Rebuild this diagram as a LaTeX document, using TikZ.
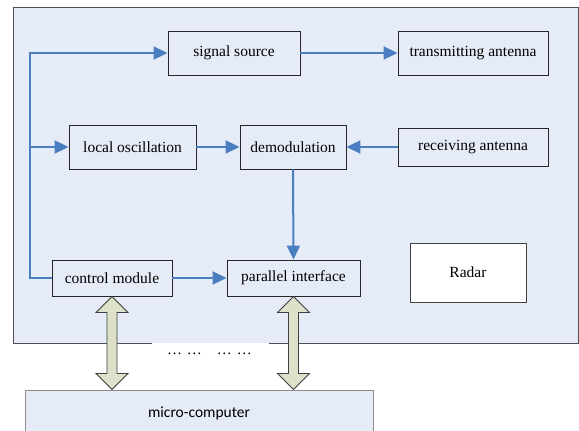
\documentclass[tikz,border=0pt]{standalone}
\usepackage{fontspec}
\setmainfont{Liberation Serif}
\newfontfamily\boxfont{Liberation Serif}
\newfontfamily\mcfont{Carlito}
\usetikzlibrary{arrows.meta,calc}
\definecolor{panelbg}{RGB}{230,236,247}
\definecolor{bluearrow}{RGB}{74,126,193}
\definecolor{olivefill}{RGB}{221,225,201}
\definecolor{framegray}{RGB}{80,80,80}
\begin{document}
\begin{tikzpicture}[x=1pt,y=-1pt,
  blk/.style={draw=black!85,line width=0.9pt,fill=panelbg,inner sep=0pt,
    font=\boxfont\fontsize{15.5}{17}\selectfont},
  conn/.style={draw=bluearrow,line width=2pt,-{Triangle[length=14pt,width=13pt]}},
  dblarrow/.style={draw=black!75,line width=0.8pt,fill=olivefill,line join=miter}]
\useasboundingbox (0,0) rectangle (579,431);
% radar panel
\fill[panelbg] (13,7) rectangle (578,343);
\draw[framegray,line width=1pt] (152,343) -- (13,343) -- (13,7) -- (578,7) -- (578,343) -- (269,343);
% micro-computer
\node[draw=black!45,line width=0.9pt,fill=panelbg,minimum width=348pt,minimum height=46pt,
  font=\mcfont\fontsize{15.5}{17}\selectfont] (mc) at (199,413) {micro-computer};
% blocks
\node[blk,minimum width=132pt,minimum height=44pt] (ss) at (234,53) {signal source};
\node[blk,minimum width=150pt,minimum height=44pt] (ta) at (473,53) {transmitting antenna};
\node[blk,minimum width=127pt,minimum height=44pt] (lo) at (132.5,147) {local oscillation};
\node[blk,minimum width=106pt,minimum height=44pt] (dm) at (293,147) {demodulation};
\node[blk,minimum width=150pt,minimum height=38pt] (ra) at (473,147) {receiving antenna};
\node[blk,minimum width=120pt,minimum height=36pt] (cm) at (112,278) {control module};
\node[blk,minimum width=133pt,minimum height=36pt] (pi) at (293.5,278) {parallel interface};
\node[blk,fill=white,draw=black!75,minimum width=116pt,minimum height=59pt] (rd) at (468,272.5) {Radar};
\node[font=\boxfont\fontsize{15}{17}\selectfont] (dots) at (209.5,354) {…\hspace{5pt}…\hspace{15pt}…\hspace{5pt}…};
% connectors
\coordinate (bt) at (30,53);
\draw[conn] (cm.west) -| (bt) -- (ss.west);
\draw[conn] (bt |- lo.west) -- (lo.west);
\draw[conn] (lo.east) -- (dm.west);
\draw[conn] (ra.west) -- (dm.east);
\draw[conn] (ss.east) -- (ta.west);
\draw[conn] (dm.south) -- (pi.north);
\draw[conn] (cm.east) -- (pi.west);
% double arrows
\foreach \n in {cm,pi}{
  \coordinate (t1) at (\n.south);
  \coordinate (t2) at (\n.south |- mc.north);
  \draw[dblarrow] (t1) -- ($(t1)+(16,16)$) -- ($(t1)+(5,16)$) -- ($(t2)+(5,-16)$)
    -- ($(t2)+(16,-16)$) -- (t2) -- ($(t2)+(-16,-16)$) -- ($(t2)+(-5,-16)$)
    -- ($(t1)+(-5,16)$) -- ($(t1)+(-16,16)$) -- cycle;
}
\end{tikzpicture}
\end{document}
